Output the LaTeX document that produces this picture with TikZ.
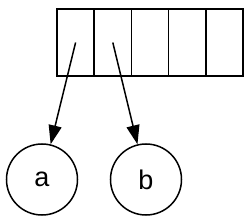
\documentclass[tikz,border=0pt]{standalone}
\usepackage{fontspec}
\setmainfont{Liberation Sans}
\usetikzlibrary{arrows.meta}
\begin{document}
\begin{tikzpicture}[x=1pt,y=1pt,
  cell/.style={draw,line width=1.5pt,minimum width=37.2pt,minimum height=67pt,inner sep=0pt,outer sep=0pt},
  vertex/.style={draw,circle,line width=1.5pt,minimum size=71pt,inner sep=0pt,font=\fontsize{27pt}{30pt}\selectfont},
  link/.style={line width=1.5pt,-{Triangle[length=19pt,width=13pt]}}]
\useasboundingbox (0,0) rectangle (250,223);
\node[cell] (c1) at (75.6,180.5) {};
\node[cell] (c2) at (112.8,180.5) {};
\node[cell] (c3) at (150,180.5) {};
\node[cell] (c4) at (187.2,180.5) {};
\node[cell] (c5) at (224.4,180.5) {};
\node[vertex] (a) at (42,43.5) {a};
\node[vertex] (b) at (146,43.5) {b};
\draw[link] (c1.center) -- (a);
\draw[link] (c2.center) -- (b);
\end{tikzpicture}
\end{document}
